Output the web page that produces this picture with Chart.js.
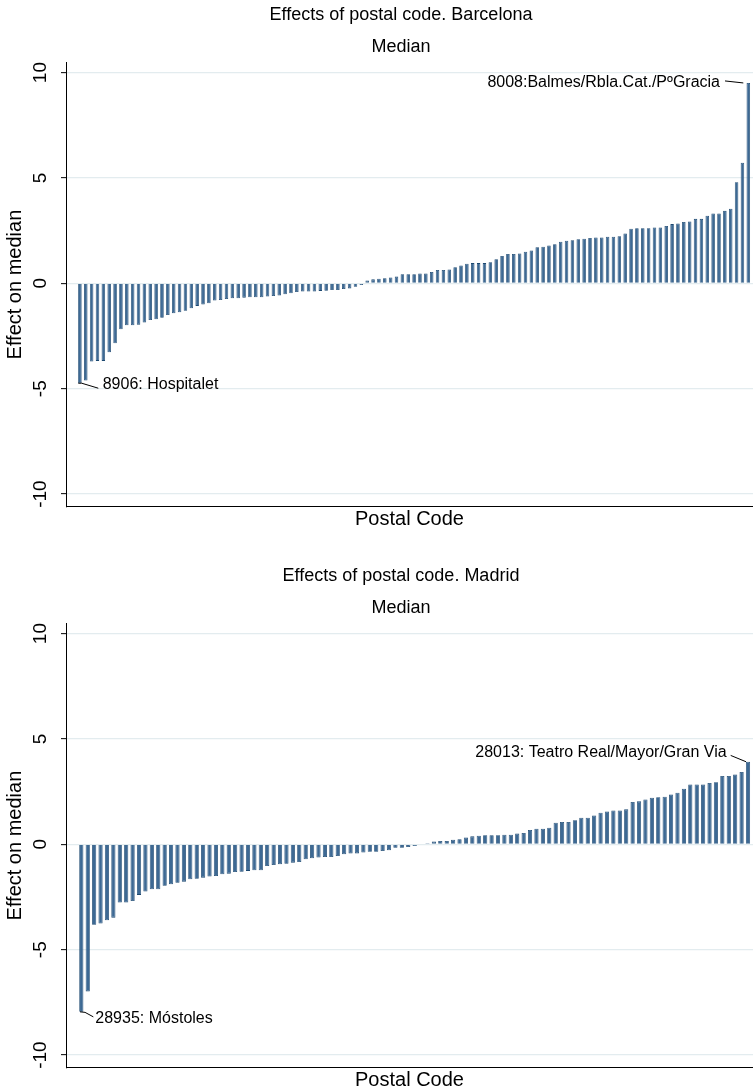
<!DOCTYPE html>
<html>
<head>
<meta charset="utf-8">
<script src="https://cdn.jsdelivr.net/npm/chart.js@4.4.0/dist/chart.umd.min.js"></script>
<style>
  html, body { margin: 0; padding: 0; background: #fff; overflow: hidden; width: 753px; height: 1090px; }
  .panel { position: absolute; left: 0; width: 753px; height: 561px; }
</style>
</head>
<body>
<div class="panel" style="top:0"><canvas id="bcn" width="753" height="561"></canvas></div>
<div class="panel" style="top:561px"><canvas id="mad" width="753" height="561"></canvas></div>
<script>
// postal code effects on the median, sorted low to high
const bcnEffects = [
  -4.74, -4.61, -3.71, -3.68, -3.68, -3.27, -2.84, -2.18, -1.99, -1.99,
  -1.96, -1.86, -1.74, -1.71, -1.63, -1.50, -1.42, -1.37, -1.30, -1.18,
  -1.07, -1.00, -0.95, -0.82, -0.79, -0.74, -0.71, -0.71, -0.68, -0.66,
  -0.66, -0.66, -0.63, -0.60, -0.58, -0.52, -0.47, -0.41,
  -0.39, -0.39, -0.39, -0.36, -0.35, -0.32, -0.32, -0.27, -0.24, -0.16,
  -0.08, 0.13, 0.19, 0.22, 0.24, 0.28, 0.32, 0.43, 0.43, 0.43,
  0.47, 0.47, 0.54, 0.63, 0.63, 0.66, 0.76, 0.85, 0.93, 0.96,
  0.96, 0.96, 1.00, 1.14, 1.30, 1.39, 1.39, 1.42, 1.50, 1.56,
  1.71, 1.74,
  1.80, 1.86, 1.97, 2.02, 2.05, 2.09, 2.12, 2.15, 2.18, 2.18,
  2.21, 2.21, 2.24, 2.37, 2.59, 2.62, 2.62, 2.62, 2.65, 2.65,
  2.72, 2.81, 2.84, 2.91, 2.94, 3.06, 3.06, 3.21, 3.32, 3.32,
  3.44, 3.54, 4.80, 5.72, 9.51
];

const madEffects = [
  -7.95, -6.98, -3.82, -3.76, -3.60, -3.48, -2.76, -2.76, -2.69, -2.40,
  -2.24, -2.13, -2.13, -1.97, -1.90, -1.82, -1.77, -1.66, -1.63, -1.58,
  -1.53, -1.50, -1.42, -1.39, -1.31, -1.30, -1.26, -1.23, -1.23, -1.03,
  -0.98, -0.95, -0.92, -0.87, -0.84, -0.71, -0.66, -0.63, -0.60, -0.60,
  -0.55, -0.47, -0.43, -0.43, -0.39, -0.35, -0.35, -0.32, -0.28, -0.16,
  -0.16, -0.13, -0.08, -0.03, 0.05, 0.13, 0.16, 0.16, 0.22, 0.24,
  0.33, 0.38, 0.41, 0.43, 0.43, 0.43, 0.46, 0.46, 0.51, 0.54,
  0.68, 0.74, 0.74, 0.79, 1.03, 1.06, 1.06, 1.14, 1.26, 1.26,
  1.37, 1.50, 1.56, 1.61, 1.61, 1.66, 2.01, 2.04, 2.13, 2.21,
  2.24, 2.26, 2.37, 2.45, 2.64, 2.84, 2.84, 2.84, 2.91, 2.95,
  3.24, 3.24, 3.32, 3.43, 3.92
];

const yTicks = [-10, -5, 0, 5, 10];
const bcnNotes = ["8906: Hospitalet", "8008:Balmes/Rbla.Cat./PºGracia"];
const madNotes = ["28935: Móstoles", "28013: Teatro Real/Mayor/Gran Via"];

const fontFam = "'Liberation Sans', Arial, Helvetica, sans-serif";

// titles, rotated y tick labels (stata style) and the two marker labels
const extrasPlugin = {
  id: "extras",
  afterDraw(chart) {
    const ctx = chart.ctx;
    const ys = chart.scales.y;
    const cfg = chart.options.plugins.extras;

    ctx.save();
    ctx.fillStyle = "#000";
    ctx.textAlign = "center";
    ctx.textBaseline = "middle";
    ctx.font = "18px " + fontFam;
    ctx.fillText(cfg.title, 401, 15);
    ctx.fillText("Median", 401, 47);

    ctx.font = "19px " + fontFam;
    yTicks.forEach((v) => {
      ctx.save();
      ctx.translate(41, ys.getPixelForValue(v));
      ctx.rotate(-Math.PI / 2);
      ctx.fillText(String(v), 0, 0);
      ctx.restore();
    });
    ctx.restore();

    const meta = chart.getDatasetMeta(0);
    ctx.save();
    ctx.strokeStyle = "#000";
    ctx.lineWidth = 1;
    ctx.fillStyle = "#000";
    ctx.font = "16px " + fontFam;
    ctx.textBaseline = "middle";
    cfg.notes.forEach((n) => {
      const bar = meta.data[n.index];
      const bx = bar.x, by = bar.y;
      ctx.beginPath();
      ctx.moveTo(bx + n.line[0][0], by + n.line[0][1]);
      for (let k = 1; k < n.line.length; k++) {
        ctx.lineTo(bx + n.line[k][0], by + n.line[k][1]);
      }
      ctx.stroke();
      ctx.textAlign = n.align;
      ctx.fillText(n.text, bx + n.dx, by + n.dy);
    });
    ctx.restore();
  },
};

function makeChart(id, effects, xMin, xMax, barPct, title, notes) {
  const pts = effects.map((v, i) => ({ x: i + 1, y: v }));
  return new Chart(document.getElementById(id), {
    type: "bar",
    data: {
      datasets: [
        {
          data: pts,
          backgroundColor: "#3d6994",
          borderColor: "#1c4870",
          borderWidth: 0.8,
          barPercentage: barPct,
          categoryPercentage: 1,
        },
      ],
    },
    options: {
      responsive: false,
      animation: false,
      layout: { padding: { left: 0, right: 0, top: 62.5, bottom: 30 } },
      plugins: {
        legend: { display: false },
        tooltip: { enabled: false },
        extras: { title: title, notes: notes },
      },
      scales: {
        x: {
          type: "linear",
          min: xMin,
          max: xMax,
          offset: false,
          grid: { display: false, drawTicks: false },
          ticks: { display: false },
          border: { display: true, color: "#000", width: 1 },
          title: {
            display: true,
            text: "Postal Code",
            color: "#000",
            font: { family: fontFam, size: 20 },
            padding: { top: 0.3, bottom: 0 },
          },
        },
        y: {
          min: -10.6,
          max: 10.48,
          afterBuildTicks: (s) => {
            s.ticks = yTicks.map((v) => ({ value: v }));
          },
          grid: {
            color: "#e3ecef",
            lineWidth: 1.3,
            drawTicks: true,
            tickLength: 5,
            tickColor: "#000",
            tickWidth: 1,
          },
          ticks: { display: false },
          border: { display: true, color: "#000", width: 1 },
          title: {
            display: true,
            text: "Effect on median",
            color: "#000",
            font: { family: fontFam, size: 20 },
            padding: { top: 3, bottom: 34 },
          },
        },
      },
    },
    plugins: [extrasPlugin],
  });
}

makeChart("bcn", bcnEffects, -1.37, 115.8, 0.6, "Effects of postal code. Barcelona", [
  { index: 0, text: bcnNotes[0], align: "left", dx: 22.8, dy: 1,
    line: [[-1.6, 0], [1.8, 0], [18.4, 5]] },
  { index: bcnEffects.length - 1, text: bcnNotes[1], align: "right", dx: -28.3, dy: 0,
    line: [[-23.3, -2], [-5, 0]] },
]);

makeChart("mad", madEffects, -1.39, 105.78, 0.65, "Effects of postal code. Madrid", [
  { index: 0, text: madNotes[0], align: "left", dx: 14, dy: 6.5,
    line: [[-1.3, 0], [3.7, 0.5], [12, 5]] },
  { index: madEffects.length - 1, text: madNotes[1], align: "right", dx: -21.3, dy: -9,
    line: [[-17.3, -6.3], [-2, 0]] },
]);
</script>
</body>
</html>
